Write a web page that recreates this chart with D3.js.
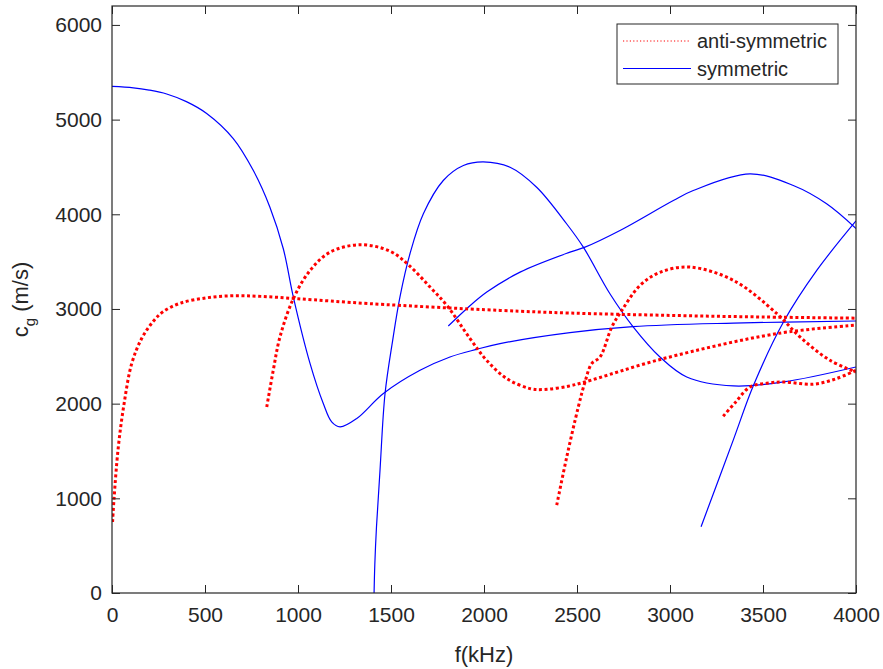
<!DOCTYPE html>
<html>
<head>
<meta charset="utf-8">
<script src="https://cdn.jsdelivr.net/npm/d3@7"></script>
<style>
  body { margin: 0; background: #fff; }
  svg text { font-family: "Liberation Sans", Arial, Helvetica, sans-serif; fill: #262626; }
</style>
</head>
<body>
<div id="chart"></div>
<script>
// group velocity dispersion curves: [f (kHz), cg (m/s)]
var xTicks = [0, 500, 1000, 1500, 2000, 2500, 3000, 3500, 4000];
var yTicks = [0, 1000, 2000, 3000, 4000, 5000, 6000];

// anti-symmetric modes
var a0 = [[3,750],[11,1000],[34,1543],[65,2000],[106,2423],[160,2690],[222,2870],[274,2970],[366,3060],[509,3118],[650,3140],[800,3133],[1000,3108],[1387,3056],[2086,2985],[2462,2957],[3000,2932],[3500,2915],[4000,2903]];
var a1 = [[832,1965],[867,2352],[903,2704],[975,3109],[1065,3407],[1172,3600],[1333,3678],[1495,3610],[1600,3455],[1710,3231],[1800,3038],[1925,2687],[2014,2458],[2122,2265],[2247,2159],[2320,2149],[2453,2184],[2543,2229],[2965,2476],[3575,2740],[4000,2830]];
var a2 = [[2391,928],[2445,1438],[2507,1965],[2543,2229],[2579,2423],[2624,2493],[2687,2809],[2741,2985],[2839,3249],[2950,3390],[3108,3442],[3341,3302],[3575,2950],[3699,2704],[3860,2458],[4000,2334]];
var a3 = [[3286,1867],[3350,2010],[3430,2176],[3520,2215],[3610,2229],[3771,2205],[3896,2265],[4000,2352]];

// symmetric modes
var s0 = [[0,5351],[115,5336],[200,5312],[294,5271],[400,5190],[509,5065],[652,4800],[760,4462],[849,4075],[921,3636],[975,3126],[1065,2423],[1136,2001],[1181,1807],[1226,1754],[1316,1843],[1459,2107],[1656,2352],[1817,2493],[1961,2574],[2086,2634],[2462,2750],[2800,2814],[3341,2851],[4000,2873]];
var s1 = [[1409,0],[1413,300],[1422,700],[1441,1300],[1468,2107],[1509,2669],[1548,3126],[1602,3583],[1674,4005],[1781,4357],[1889,4515],[1996,4554],[2140,4497],[2283,4286],[2444,3900],[2534,3653],[2677,3161],[2803,2809],[2946,2493],[3090,2282],[3341,2187],[3610,2229],[4000,2387]];
var s2 = [[1808,2820],[1907,3003],[2015,3178],[2194,3389],[2462,3600],[2543,3653],[2731,3829],[3018,4146],[3125,4251],[3430,4427],[3663,4304],[3842,4111],[4000,3850]];
var s3 = [[3167,700],[3341,1620],[3449,2194],[3610,2862],[3789,3407],[4000,3930]];

var antiModes = [a0, a1, a2, a3];
var symModes = [s0, s1, s2, s3];

var width = 883, height = 669,
    margin = {top: 6, right: 27, bottom: 76, left: 112},
    w = width - margin.left - margin.right,
    h = height - margin.top - margin.bottom,
    axisColor = '#262626';

var svg = d3.select('#chart').append('svg')
            .attr('width', width)
            .attr('height', height);

var g = svg.append('g')
           .attr('transform', 'translate(' + margin.left + ',' + margin.top + ')');

var x = d3.scaleLinear().domain([0, 4000]).range([0, w]),
    y = d3.scaleLinear().domain([0, 6200]).range([h, 0]);

g.append('clipPath').attr('id', 'plot-clip')
 .append('rect').attr('width', w).attr('height', h);

var line = d3.line()
             .x(function (d) { return x(d[0]); })
             .y(function (d) { return y(d[1]); })
             .curve(d3.curveCatmullRom.alpha(0.5));

var plot = g.append('g').attr('clip-path', 'url(#plot-clip)');

plot.selectAll('path.sym')
    .data(symModes)
    .enter()
    .append('path')
    .attr('class', 'sym')
    .attr('d', line)
    .attr('fill', 'none')
    .attr('stroke', '#0000ff')
    .attr('stroke-width', 1.2);

plot.selectAll('path.anti')
    .data(antiModes)
    .enter()
    .append('path')
    .attr('class', 'anti')
    .attr('d', line)
    .attr('fill', 'none')
    .attr('stroke', '#ff0000')
    .attr('stroke-width', 3)
    .attr('stroke-dasharray', '3,2.6');

// axes, MATLAB style: box with inward ticks on every side
function styleAxis(sel) {
    sel.select('.domain').remove();
    sel.selectAll('.tick line').attr('stroke', axisColor);
    sel.selectAll('.tick text').style('font-size', '21px').attr('fill', axisColor);
}

g.append('g')
 .attr('transform', 'translate(0,' + h + ')')
 .call(d3.axisBottom(x).tickValues(xTicks).tickSizeInner(-8).tickSizeOuter(0).tickPadding(14).tickFormat(d3.format('d')))
 .call(styleAxis);

g.append('g')
 .call(d3.axisTop(x).tickValues(xTicks).tickSizeInner(-8).tickSizeOuter(0).tickFormat(''))
 .call(styleAxis);

g.append('g')
 .call(d3.axisLeft(y).tickValues(yTicks).tickSizeInner(-8).tickSizeOuter(0).tickPadding(10).tickFormat(d3.format('d')))
 .call(styleAxis);

g.append('g')
 .attr('transform', 'translate(' + w + ',0)')
 .call(d3.axisRight(y).tickValues(yTicks).tickSizeInner(-8).tickSizeOuter(0).tickFormat(''))
 .call(styleAxis);

g.append('rect')
 .attr('width', w)
 .attr('height', h)
 .attr('fill', 'none')
 .attr('stroke', axisColor)
 .attr('stroke-width', 1.2);

// axis titles
svg.append('text')
   .attr('x', margin.left + w / 2)
   .attr('y', 662)
   .attr('text-anchor', 'middle')
   .style('font-size', '22px')
   .text('f(kHz)');

var yTitle = svg.append('text')
   .attr('transform', 'translate(28,' + (margin.top + h / 2) + ') rotate(-90)')
   .attr('text-anchor', 'middle')
   .style('font-size', '22px');
yTitle.append('tspan').text('c');
yTitle.append('tspan').attr('dy', 7).style('font-size', '15px').text('g');
yTitle.append('tspan').attr('dy', -7).text(' (m/s)');

// legend
var legend = svg.append('g').attr('transform', 'translate(617,24)');

legend.append('rect')
      .attr('width', 221)
      .attr('height', 60)
      .attr('fill', '#fff')
      .attr('stroke', axisColor)
      .attr('stroke-width', 1);

var legendItems = [
    {label: 'anti-symmetric', color: '#ff0000', width: 1, dash: '1.2,2.2'},
    {label: 'symmetric', color: '#0000ff', width: 1.2, dash: null}
];

legendItems.forEach(function (item, i) {
    var cy = 17 + i * 27.5;
    legend.append('line')
          .attr('x1', 6).attr('x2', 74)
          .attr('y1', cy).attr('y2', cy)
          .attr('stroke', item.color)
          .attr('stroke-width', item.width)
          .attr('stroke-dasharray', item.dash);
    legend.append('text')
          .attr('x', 80)
          .attr('y', cy + 7)
          .style('font-size', '20px')
          .text(item.label);
});
</script>
</body>
</html>
